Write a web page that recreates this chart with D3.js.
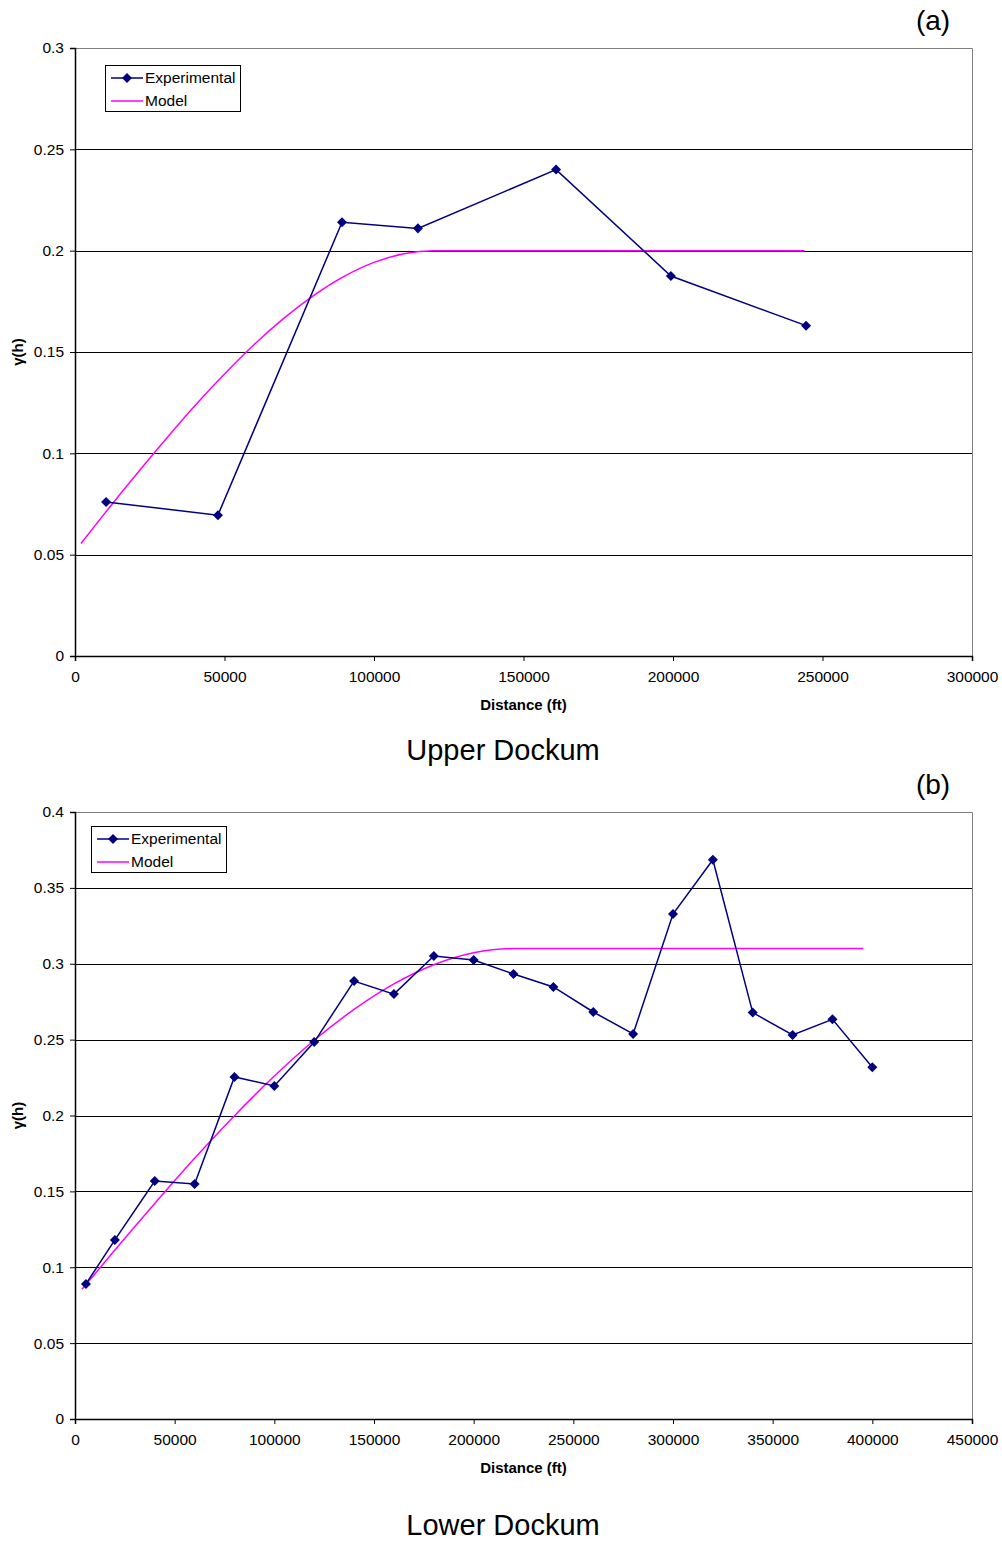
<!DOCTYPE html>
<html>
<head>
<meta charset="utf-8">
<script src="https://cdn.jsdelivr.net/npm/d3@7"></script>
<style>
  body { margin: 0; background: #fff; }
  svg { display: block; font-family: "Liberation Sans", Arial, sans-serif; }
</style>
</head>
<body>
<script>
// (a) Upper Dockum
const upperExpDist = [10400, 47800, 89300, 114700, 160900, 199300, 244500]
const upperExpGamma = [0.076, 0.0695, 0.214, 0.211, 0.240, 0.1875, 0.163]
const upperModelDist = [2000, 10000, 20000, 30000, 40000, 50000, 60000, 70000, 80000, 90000, 100000, 110000, 120000, 244000]
const upperModelGamma = [0.0555, 0.0705, 0.0887, 0.1063, 0.1233, 0.1391, 0.1538, 0.1668, 0.1781, 0.1873, 0.1942, 0.1985, 0.200, 0.200]
const upperXTicks = [0, 50000, 100000, 150000, 200000, 250000, 300000]
const upperYTicks = [0, 0.05, 0.1, 0.15, 0.2, 0.25, 0.3]

// (b) Lower Dockum
const lowerExpDist = [5500, 20000, 40000, 60000, 80000, 100000, 120000, 140000, 160000, 180000, 200000, 220000, 240000, 260000, 280000, 300000, 320000, 340000, 360000, 380000, 400000]
const lowerExpGamma = [0.089, 0.118, 0.1568, 0.1549, 0.2254, 0.2195, 0.2484, 0.2886, 0.280, 0.3051, 0.3025, 0.2932, 0.2847, 0.2682, 0.2537, 0.3328, 0.3685, 0.2678, 0.2531, 0.2634, 0.2318]
const lowerModelDist = [3500, 20000, 40000, 60000, 80000, 100000, 120000, 140000, 160000, 180000, 200000, 220000, 395500]
const lowerModelGamma = [0.0855, 0.1113, 0.142, 0.1718, 0.1999, 0.226, 0.2496, 0.2699, 0.2867, 0.2993, 0.3072, 0.310, 0.310]
const lowerXTicks = [0, 50000, 100000, 150000, 200000, 250000, 300000, 350000, 400000, 450000]
const lowerYTicks = [0, 0.05, 0.1, 0.15, 0.2, 0.25, 0.3, 0.35, 0.4]

const W = 1002, H = 1542
const svg = d3.select("body").append("svg").attr("width", W).attr("height", H)

function drawChart(cfg) {
  const x = d3.scaleLinear().domain([0, cfg.xMax]).range([75, 972])
  const y = d3.scaleLinear().domain([0, cfg.yMax]).range([cfg.bottom, cfg.top])
  const g = svg.append("g")

  // grid lines
  g.selectAll("line.grid")
    .data(cfg.yTicks.filter(d => d > 0 && d < cfg.yMax))
    .enter().append("line")
    .attr("x1", x(0)).attr("x2", x(cfg.xMax))
    .attr("y1", d => Math.round(y(d)) + 0.5).attr("y2", d => Math.round(y(d)) + 0.5)
    .attr("stroke", "#000").attr("stroke-width", 1)

  // plot border (top & right)
  g.append("path")
    .attr("d", `M${x(0)},${y(cfg.yMax) + 0.5}H${x(cfg.xMax) + 0.5}V${y(0)}`)
    .attr("fill", "none").attr("stroke", "#808080").attr("stroke-width", 1)

  // axes
  const xAxis = d3.axisBottom(x).tickValues(cfg.xTicks).tickFormat(d3.format("d")).tickSize(5).tickPadding(10)
  const yAxis = d3.axisLeft(y).tickValues(cfg.yTicks).tickFormat(d => String(d)).tickSize(5).tickPadding(6)
  const gx = g.append("g").attr("transform", `translate(0,${y(0)})`).call(xAxis)
  const gy = g.append("g").attr("transform", `translate(${x(0)},0)`).call(yAxis)
  for (const ax of [gx, gy]) {
    ax.select(".domain").attr("stroke", "#000").attr("stroke-width", 1.5)
    ax.selectAll(".tick line").attr("stroke", "#000")
    ax.selectAll(".tick text").attr("fill", "#000").style("font-size", "15.5px")
      .style("font-family", "Liberation Sans, Arial, sans-serif")
  }

  // axis titles
  g.append("text").attr("x", (x(0) + x(cfg.xMax)) / 2).attr("y", y(0) + 54)
    .attr("text-anchor", "middle").style("font-size", "15px").style("font-weight", "bold")
    .text("Distance (ft)")
  g.append("text")
    .attr("transform", `translate(23,${(y(0) + y(cfg.yMax)) / 2}) rotate(-90)`)
    .attr("text-anchor", "middle").style("font-size", "15px").style("font-weight", "bold")
    .text("γ(h)")

  // model curve
  const model = cfg.modelDist.map((d, i) => [d, cfg.modelGamma[i]])
  g.append("path").datum(model)
    .attr("d", d3.line().x(d => x(d[0])).y(d => y(d[1])).curve(d3.curveMonotoneX))
    .attr("fill", "none").attr("stroke", "#FF00FF").attr("stroke-width", 1.5)

  // experimental
  const exp = cfg.expDist.map((d, i) => [d, cfg.expGamma[i]])
  g.append("path").datum(exp)
    .attr("d", d3.line().x(d => x(d[0])).y(d => y(d[1])))
    .attr("fill", "none").attr("stroke", "#000080").attr("stroke-width", 1.5)
  const diamond = d3.symbol().type(d3.symbolDiamond2).size(64)
  g.selectAll("path.pt").data(exp).enter().append("path")
    .attr("transform", d => `translate(${x(d[0])},${y(d[1])})`)
    .attr("d", diamond).attr("fill", "#000080")

  // legend
  const lg = g.append("g").attr("transform", `translate(${cfg.legX},${cfg.legY})`)
  lg.append("rect").attr("x", 0.5).attr("y", 0.5).attr("width", 135).attr("height", 46)
    .attr("fill", "#fff").attr("stroke", "#000").attr("stroke-width", 1)
  lg.append("line").attr("x1", 6).attr("x2", 38).attr("y1", 13).attr("y2", 13)
    .attr("stroke", "#000080").attr("stroke-width", 1.5)
  lg.append("path").attr("transform", "translate(22,13)").attr("d", diamond).attr("fill", "#000080")
  lg.append("line").attr("x1", 6).attr("x2", 38).attr("y1", 36).attr("y2", 36)
    .attr("stroke", "#FF00FF").attr("stroke-width", 1.5)
  lg.append("text").attr("x", 40).attr("y", 18).style("font-size", "15.5px").text("Experimental")
  lg.append("text").attr("x", 40).attr("y", 41).style("font-size", "15.5px").text("Model")

  // panel letter and caption
  svg.append("text").attr("x", 933).attr("y", cfg.letterY).attr("text-anchor", "middle")
    .style("font-size", "28px").text(cfg.letter)
  svg.append("text").attr("x", 503).attr("y", cfg.captionY).attr("text-anchor", "middle")
    .style("font-size", "29px").text(cfg.caption)
}

drawChart({
  xMax: 300000, yMax: 0.3, top: 48, bottom: 656,
  xTicks: upperXTicks, yTicks: upperYTicks,
  expDist: upperExpDist, expGamma: upperExpGamma,
  modelDist: upperModelDist, modelGamma: upperModelGamma,
  legX: 105, legY: 65, letter: "(a)", letterY: 30, caption: "Upper Dockum", captionY: 760
})

drawChart({
  xMax: 450000, yMax: 0.4, top: 812, bottom: 1419,
  xTicks: lowerXTicks, yTicks: lowerYTicks,
  expDist: lowerExpDist, expGamma: lowerExpGamma,
  modelDist: lowerModelDist, modelGamma: lowerModelGamma,
  legX: 91, legY: 826, letter: "(b)", letterY: 794, caption: "Lower Dockum", captionY: 1535
})
</script>
</body>
</html>
